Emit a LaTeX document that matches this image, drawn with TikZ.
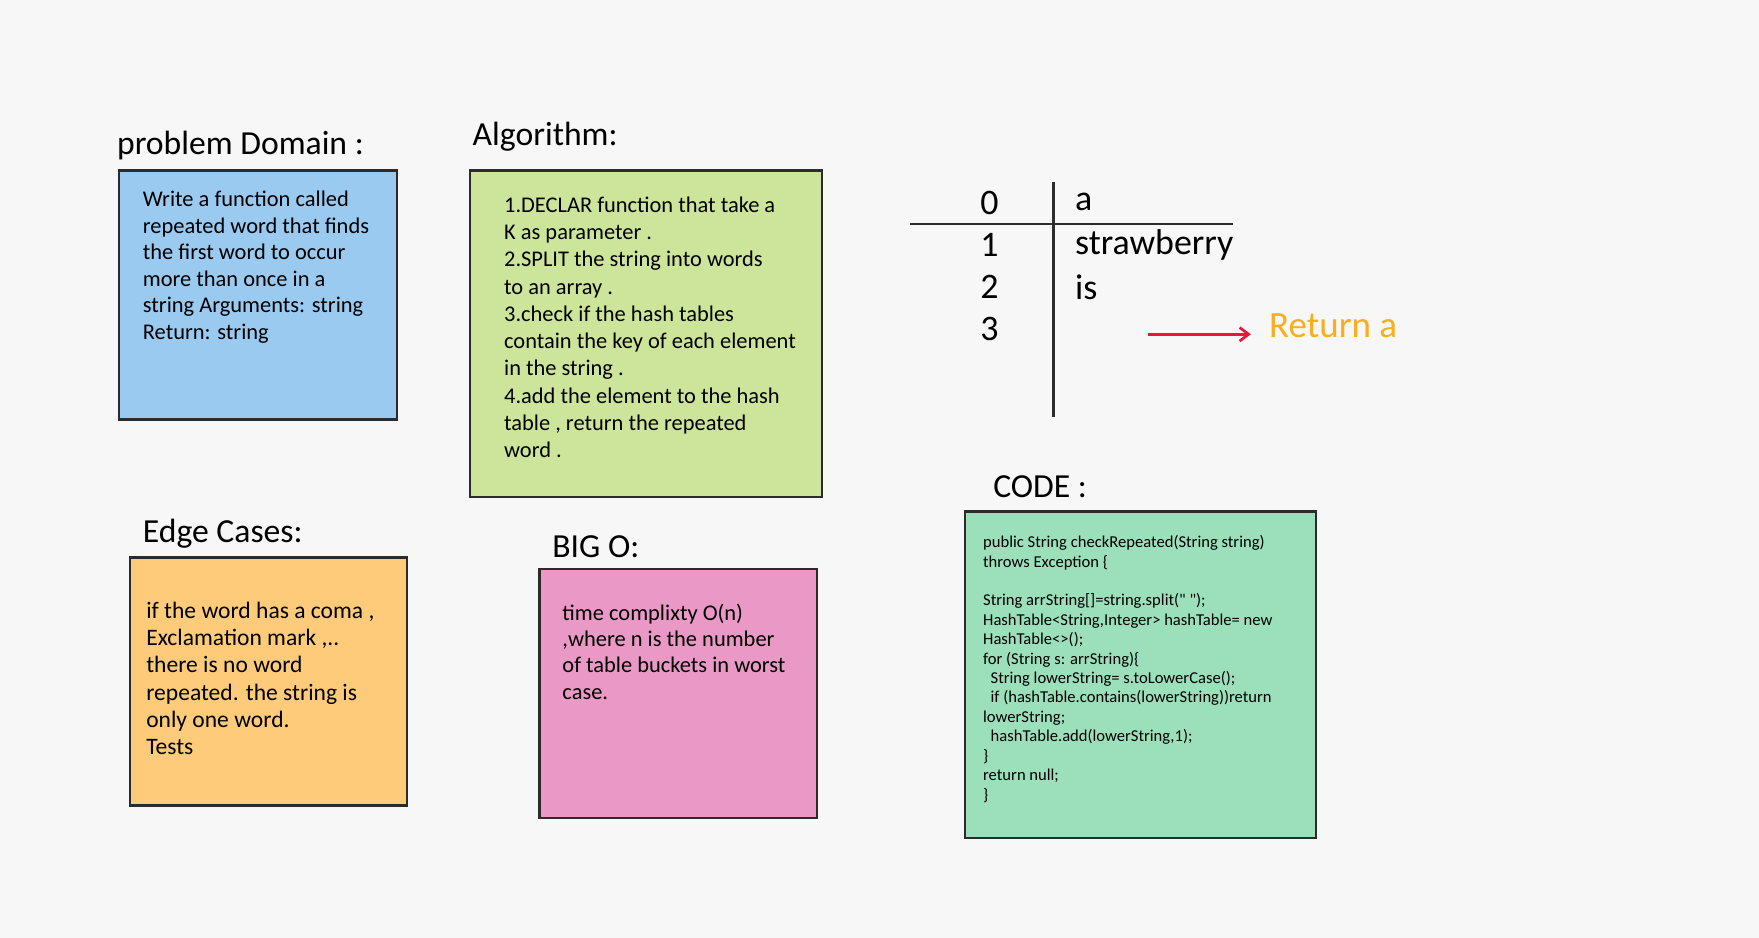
\documentclass[tikz,border=0pt]{standalone}
\usepackage{fontspec}
\setmainfont{Carlito}
\usetikzlibrary{arrows.meta}
\definecolor{paper}{HTML}{F7F7F7}
\definecolor{boxline}{HTML}{2B2B2B}
\definecolor{pdblue}{HTML}{9ACAF0}
\definecolor{algreen}{HTML}{CDE59B}
\definecolor{edorange}{HTML}{FDCB7A}
\definecolor{bopink}{HTML}{EA99C6}
\definecolor{codemint}{HTML}{9BE0BB}
\definecolor{retorange}{HTML}{F8AE1E}
\definecolor{arrowred}{HTML}{E8173A}
\begin{document}
\begin{tikzpicture}[x=0.5pt, y=-0.5pt,
    note/.style={draw=boxline, line width=1pt, anchor=north west, inner sep=0pt},
    title/.style={anchor=west, inner sep=0pt, font=\fontsize{15}{18}\selectfont},
    body/.style={anchor=north west, inner sep=0pt, align=left, font=\fontsize{10}{12}\selectfont},
    codetext/.style={anchor=north west, inner sep=0pt, align=left, font=\fontsize{7.4}{8.65}\selectfont},
    cell/.style={inner sep=0pt, font=\fontsize{16}{19}\selectfont},
    tableline/.style={draw=boxline, line width=1pt}]

    % background and page size
    \fill[paper] (0,0) rectangle (1568,836);
    \useasboundingbox (0,0) rectangle (1568,836);

    % problem domain
    \node[title] (domaintitle) at (104,130) {problem Domain :};
    \node[note, fill=pdblue, minimum width=124pt, minimum height=111pt] (domain) at (105,151) {};
    \node[body, font=\fontsize{10}{11.8}\selectfont] (domaintext) at (127,170) {Write a function called\\repeated word that finds\\the first word to occur\\more than once in a\\string Arguments: string\\Return: string};

    % algorithm
    \node[title] (algotitle) at (421,122) {Algorithm:};
    \node[note, fill=algreen, minimum width=157pt, minimum height=145.5pt] (algo) at (418,151) {};
    \node[body, font=\fontsize{10}{12.15}\selectfont] (algotext) at (449,175) {1.DECLAR function that take a\\K as parameter .\\2.SPLIT the string into words\\to an array .\\3.check if the hash tables\\contain the key of each element\\in the string .\\4.add the element to the hash\\table , return the repeated\\word .};

    % hash table sketch
    \draw[tableline] (939,162) -- (939,372);
    \draw[tableline] (811,200) -- (1099,200);
    \node[cell] (k0) at (882,181) {0};
    \node[cell] (k1) at (882,218) {1};
    \node[cell] (k2) at (882,256) {2};
    \node[cell] (k3) at (882,293) {3};
    \node[cell, anchor=west] (v0) at (958,180) {a};
    \node[cell, anchor=west] (v1) at (958,218) {strawberry};
    \node[cell, anchor=west] (v2) at (958,256) {is};

    % result
    \coordinate (arrowtail) at (1023,298);
    \node[cell, anchor=west, text=retorange, font=\fontsize{16.5}{19}\selectfont] (ret) at (1131,290) {Return a};
    \draw[arrowred, line width=1.2pt, -{Straight Barb[length=4pt, width=6pt]}, shorten >=8pt] (arrowtail) -- (ret.west |- arrowtail);

    % code
    \node[title] (codetitle) at (885,434) {CODE :};
    \node[note, fill=codemint, minimum width=156.5pt, minimum height=145.5pt] (code) at (859,455) {};
    \node[codetext] (codebody) at (876,477) {public String checkRepeated(String string)\\throws Exception \{\\[8.65pt]String arrString[]=string.split(\textquotedbl\ \textquotedbl);\\HashTable<String,Integer> hashTable= new\\HashTable<>();\\for (String s: arrString)\{\\\ \ String lowerString= s.toLowerCase();\\\ \ if (hashTable.contains(lowerString))return\\lowerString;\\\ \ hashTable.add(lowerString,1);\\\}\\return null;\\\}};

    % edge cases
    \node[title] (edgetitle) at (127,476) {Edge Cases:};
    \node[note, fill=edorange, minimum width=123.5pt, minimum height=110.5pt] (edge) at (115,496) {};
    \node[body, font=\fontsize{10.5}{12.2}\selectfont] (edgetext) at (130,536) {if the word has a coma ,\\Exclamation mark ,..\\there is no word\\repeated. the string is\\only one word.\\Tests};

    % big o
    \node[title] (bigotitle) at (492,487) {BIG O:};
    \node[note, fill=bopink, minimum width=123.5pt, minimum height=111pt] (bigo) at (480,506) {};
    \node[body, font=\fontsize{10}{11.7}\selectfont] (bigotext) at (501,538) {time complixty O(n)\\,where n is the number\\of table buckets in worst\\case.};

\end{tikzpicture}
\end{document}
